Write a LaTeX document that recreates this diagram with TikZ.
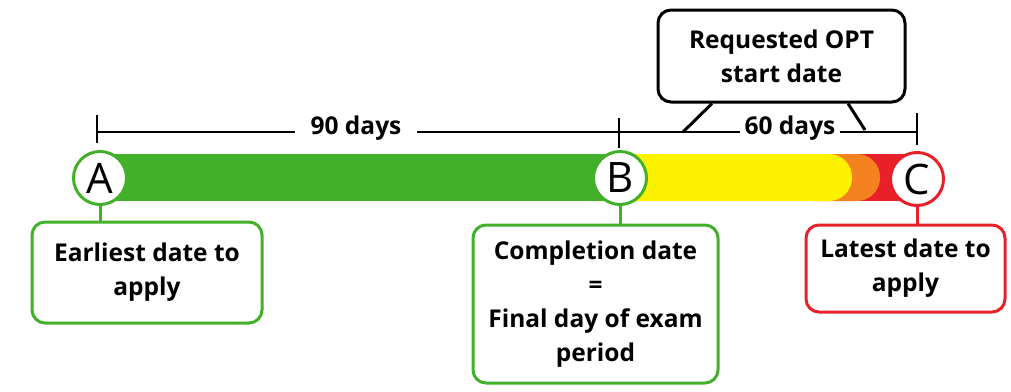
\documentclass[tikz,border=0pt]{standalone}
\usepackage{fontspec}
\setmainfont{Open Sans}
\definecolor{optgreen}{HTML}{43B02A}
\definecolor{optyellow}{HTML}{FFF200}
\definecolor{optorange}{HTML}{F58220}
\definecolor{optred}{HTML}{E8202A}

\begin{document}
\begin{tikzpicture}[x=1pt, y=-1pt,
        every node/.style={align=center, font=\bfseries\fontsize{24.5}{34}\selectfont},
        letter/.style={circle, draw, line width=3pt, fill=white, minimum size=53pt, inner sep=0pt, font=\fontsize{42}{42}\selectfont},
        notebox/.style={draw, line width=3pt, rounded corners=13pt, fill=white, inner sep=0pt},
        dim/.style={line width=2.8pt},
        daylabel/.style={fill=white, inner ysep=2pt}
    ]
        \useasboundingbox (0,0) rectangle (1011,391);
        % colour bar
        \fill[optred] (830,154) rectangle (917,201);
        \fill[optorange, rounded corners=23pt] (790,154) rectangle (880,201);
        \fill[optyellow, rounded corners=23pt] (570,154) rectangle (852,201);
        \fill[optgreen] (100,154) rectangle (620,201);
        % dimension line and ticks
        \draw[dim] (97,132) -- (917,132);
        \draw[dim] (97,115) -- (97,143);
        \draw[dim] (619,118) -- (619,148);
        \draw[dim] (917,113) -- (917,145);
        \node[daylabel, inner xsep=16pt] (d90) at (356,128) {90 days};
        \node[daylabel, inner xsep=5pt] (d60) at (790,128) {60 days};
        % callout
        \node[notebox, minimum width=247pt, minimum height=92pt] (req) at (781.5,56) {Requested OPT\\start date};
        \coordinate (l1) at (683,132);
        \coordinate (l2) at (865,130);
        \draw[dim, line width=3pt] (req.south -| 712,0) -- (l1);
        \draw[dim, line width=3pt] (req.south -| 848,0) -- (l2);
        % points
        \node[letter, draw=optgreen] (a) at (100,178) {A};
        \node[letter, draw=optgreen] (b) at (620,178) {B};
        \node[letter, draw=optred]   (c) at (917,179) {C};
        % notes
        \node[notebox, draw=optgreen, minimum width=230pt, minimum height=101pt] (ea) at (147,272.5) {Earliest date to\\apply};
        \node[notebox, draw=optgreen, minimum width=245pt, minimum height=158pt] (cd) at (595.5,304) {Completion date\\=\\Final day of exam\\period};
        \node[notebox, draw=optred, minimum width=199pt, minimum height=87pt] (la) at (905.5,268.5) {Latest date to\\apply};
        \draw[optgreen, line width=3pt] (a) -- (a |- ea.north);
        \draw[optgreen, line width=3pt] (b) -- (b |- cd.north);
        \draw[optred, line width=3pt]   (c) -- (c |- la.north);
    \end{tikzpicture}
\end{document}
